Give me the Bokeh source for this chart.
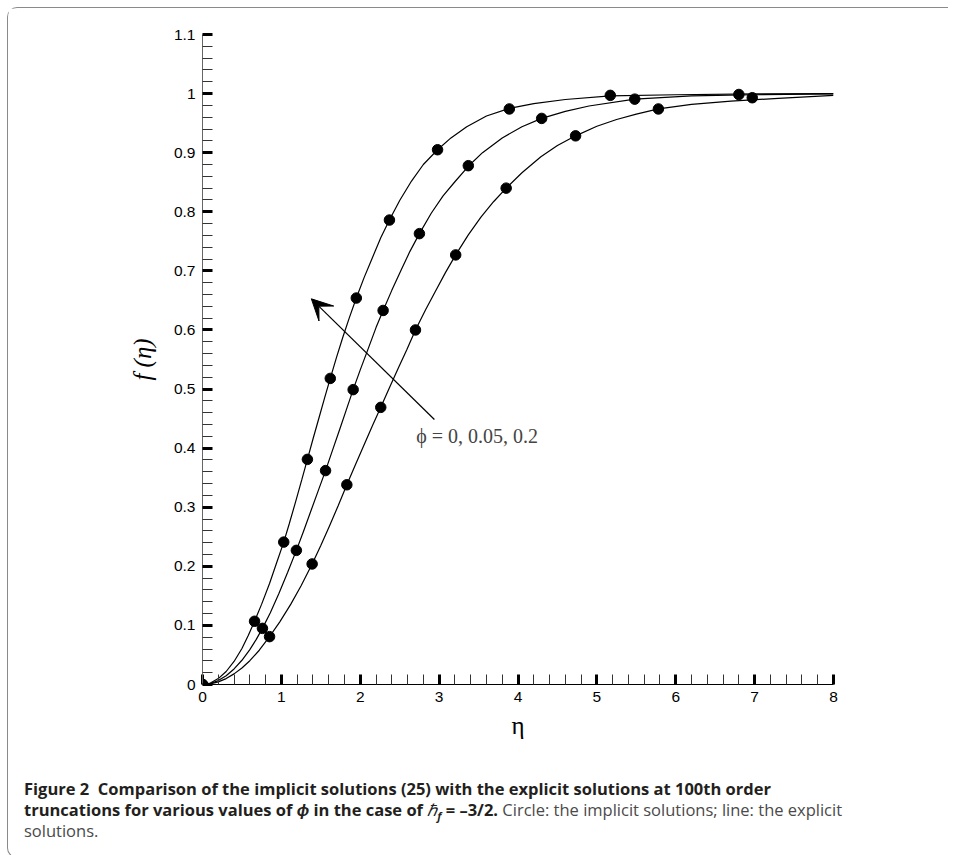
from bokeh.plotting import figure
from bokeh.models import Range1d, FixedTicker, PrintfTickFormatter, Label, Arrow, VeeHead, Div
from bokeh.layouts import column
from bokeh.embed import file_html
from bokeh.resources import INLINE

# ---------------- data ----------------
x_ticks = [0, 1, 2, 3, 4, 5, 6, 7, 8]
x_minor = [0.2, 0.4, 0.6, 0.8, 1.2, 1.4, 1.6, 1.8, 2.2, 2.4, 2.6, 2.8, 3.2, 3.4, 3.6, 3.8,
           4.2, 4.4, 4.6, 4.8, 5.2, 5.4, 5.6, 5.8, 6.2, 6.4, 6.6, 6.8, 7.2, 7.4, 7.6, 7.8]
y_ticks = [0, 0.1, 0.2, 0.3, 0.4, 0.5, 0.6, 0.7, 0.8, 0.9, 1.0, 1.1]
y_minor = [round(t + k * 0.02, 2) for t in y_ticks[:-1] for k in (1, 2, 3, 4)]

# explicit solutions (lines), phi = 0, 0.05, 0.2
line_x_phi0 = [0, 0.1, 0.2, 0.3, 0.4, 0.5, 0.58, 0.66, 0.75, 0.85, 0.94, 1.03, 1.10, 1.18, 1.26,
               1.33, 1.40, 1.47, 1.55, 1.62, 1.70, 1.78, 1.86, 1.95, 2.05, 2.15, 2.26, 2.37,
               2.50, 2.65, 2.80, 2.98, 3.15, 3.35, 3.6, 3.89, 4.2, 4.6, 5.17, 6.0, 7.0, 8.0]
line_y_phi0 = [0, 0.0025, 0.010, 0.022, 0.039, 0.061, 0.083, 0.107, 0.136, 0.171, 0.206, 0.241,
               0.272, 0.309, 0.347, 0.381, 0.415, 0.448, 0.486, 0.518, 0.554, 0.588, 0.620,
               0.654, 0.689, 0.721, 0.756, 0.786, 0.819, 0.852, 0.880, 0.905, 0.925, 0.944,
               0.962, 0.975, 0.983, 0.990, 0.996, 0.998, 0.9995, 1.0]
line_x_phi005 = [0, 0.1, 0.2, 0.3, 0.4, 0.5, 0.6, 0.68, 0.76, 0.86, 0.97, 1.08, 1.19, 1.28,
                 1.375, 1.47, 1.56, 1.65, 1.74, 1.82, 1.91, 2.0, 2.1, 2.2, 2.29, 2.4, 2.52,
                 2.63, 2.75, 2.9, 3.05, 3.2, 3.37, 3.55, 3.8, 4.05, 4.30, 4.6, 4.9, 5.48, 6.2,
                 7.0, 8.0]
line_y_phi005 = [0, 0.0016, 0.0066, 0.0148, 0.0263, 0.041, 0.059, 0.076, 0.095, 0.1215, 0.1545,
                 0.190, 0.227, 0.259, 0.294, 0.329, 0.362, 0.397, 0.432, 0.4635, 0.499, 0.5325,
                 0.568, 0.604, 0.633, 0.667, 0.702, 0.733, 0.763, 0.7975, 0.8268, 0.8508, 0.877,
                 0.900, 0.925, 0.944, 0.958, 0.970, 0.979, 0.9906, 0.996, 0.998, 0.9995]
line_x_phi02 = [0, 0.1, 0.2, 0.3, 0.4, 0.5, 0.6, 0.72, 0.85, 0.98, 1.12, 1.25, 1.39, 1.5, 1.61,
                1.72, 1.83, 1.94, 2.045, 2.15, 2.26, 2.37, 2.48, 2.59, 2.70, 2.83, 2.955, 3.08,
                3.21, 3.37, 3.53, 3.69, 3.85, 4.05, 4.29, 4.5, 4.73, 5.0, 5.25, 5.5, 5.78, 6.2,
                6.7, 7.3, 8.0]
line_y_phi02 = [0, 0.0011, 0.0045, 0.010, 0.018, 0.028, 0.0403, 0.058, 0.081, 0.106, 0.136,
                0.167, 0.204, 0.2354, 0.2684, 0.3025, 0.338, 0.3723, 0.4046, 0.4366, 0.469,
                0.502, 0.5347, 0.5666, 0.600, 0.6345, 0.6658, 0.697, 0.727, 0.761, 0.791,
                0.817, 0.840, 0.866, 0.893, 0.912, 0.9285, 0.9447, 0.9562, 0.9652, 0.974,
                0.9816, 0.9871, 0.992, 0.997]

# implicit solutions (circles)
pt_x_phi0 = [0, 0.66, 1.03, 1.33, 1.62, 1.95, 2.37, 2.98, 3.89, 5.17, 6.80]
pt_y_phi0 = [0, 0.107, 0.241, 0.381, 0.518, 0.654, 0.786, 0.905, 0.974, 0.997, 0.9985]
pt_x_phi005 = [0, 0.76, 1.19, 1.56, 1.91, 2.29, 2.75, 3.37, 4.30, 5.48, 6.97]
pt_y_phi005 = [0, 0.095, 0.227, 0.362, 0.499, 0.633, 0.763, 0.878, 0.958, 0.9906, 0.993]
pt_x_phi02 = [0, 0.85, 1.39, 1.83, 2.26, 2.70, 3.21, 3.85, 4.73, 5.78]
pt_y_phi02 = [0, 0.081, 0.204, 0.338, 0.469, 0.600, 0.727, 0.840, 0.9285, 0.974]

arrow_start = (2.94, 0.4485)
arrow_end = (1.38, 0.6527)
phi_label = "\u03d5 = 0, 0.05, 0.2"
phi_label_pos = (2.71, 0.421)

# ---------------- figure ----------------
p = figure(width=930, height=765, x_range=Range1d(0, 8), y_range=Range1d(0, 1.1),
           output_backend="svg", toolbar_location=None,
           min_border_left=194, min_border_right=105, min_border_top=26, min_border_bottom=89)
p.outline_line_color = None
p.xgrid.visible = False
p.ygrid.visible = False
p.background_fill_color = "white"
p.border_fill_color = "white"

p.xaxis.ticker = FixedTicker(ticks=x_ticks, minor_ticks=x_minor)
p.yaxis.ticker = FixedTicker(ticks=y_ticks, minor_ticks=y_minor)
for ax in (p.xaxis, p.yaxis):
    ax.formatter = PrintfTickFormatter(format="%g")
    ax.major_tick_in = 10
    ax.major_tick_out = 0
    ax.minor_tick_in = 10
    ax.minor_tick_out = 0
    ax.major_tick_line_width = 3
    ax.major_tick_line_color = "black"
    ax.minor_tick_line_width = 1
    ax.minor_tick_line_color = "#333333"
    ax.major_label_text_font = "Liberation Sans"
    ax.major_label_text_font_size = "15.5px"
    ax.major_label_text_color = "black"
    ax.major_label_standoff = 7
    ax.axis_label_text_font = "Liberation Serif"
    ax.axis_label_text_color = "black"
p.xaxis.axis_line_color = "black"
p.yaxis.axis_line_color = "#666666"

p.xaxis.axis_label = "\u03b7"
p.xaxis.axis_label_text_font_style = "normal"
p.xaxis.axis_label_text_font_size = "25px"
p.xaxis.axis_label_standoff = 7
p.yaxis.axis_label = "f (\u03b7)"
p.yaxis.axis_label_text_font_style = "italic"
p.yaxis.axis_label_text_font_size = "25px"
p.yaxis.axis_label_standoff = 15

for xs, ys in [(line_x_phi0, line_y_phi0), (line_x_phi005, line_y_phi005), (line_x_phi02, line_y_phi02)]:
    p.line(xs, ys, line_color="black", line_width=1.2)
for xs, ys in [(pt_x_phi0, pt_y_phi0), (pt_x_phi005, pt_y_phi005), (pt_x_phi02, pt_y_phi02)]:
    p.scatter(xs, ys, size=10.5, color="black")

p.add_layout(Arrow(end=VeeHead(size=21, fill_color="black", line_color="black"),
                   x_start=arrow_start[0], y_start=arrow_start[1],
                   x_end=arrow_end[0], y_end=arrow_end[1], line_width=1.2, line_color="black"))
p.add_layout(Label(x=phi_label_pos[0], y=phi_label_pos[1], text=phi_label,
                   text_font="Liberation Serif", text_font_size="20px",
                   text_baseline="middle", text_align="left"))

caption_html = (
    '<div style="font-family: \'Open Sans\', sans-serif; font-size: 16.5px; line-height: 21px; '
    'color: #4a4a4a; white-space: nowrap; padding: 0 0 0 11px;">'
    '<b style="color:#231f20">Figure 2&nbsp; Comparison of the implicit solutions (25) with the explicit '
    'solutions at 100th order</b><br>'
    '<b style="color:#231f20">truncations for various values of <i>\u03d5</i> in the case of '
    '<i style="font-weight:normal">\u210f</i><span style="font-size:11px; position:relative; top:4px; '
    'line-height:0"><i>f</i></span> = \u20133/2.</b> '
    'Circle: the implicit solutions; line: the explicit<br>solutions.</div>'
)
cap = Div(text=caption_html, width=930, height=74)

layout = column(p, cap, margin=(7, 0, 0, 7),
                styles={"border-top": "1px solid #8a8a8a", "border-left": "1px solid #8a8a8a",
                        "border-bottom": "1px solid #8a8a8a",
                        "border-radius": "10px 0 0 10px", "background-color": "white"})

open("out.html", "w").write(file_html(layout, INLINE))
